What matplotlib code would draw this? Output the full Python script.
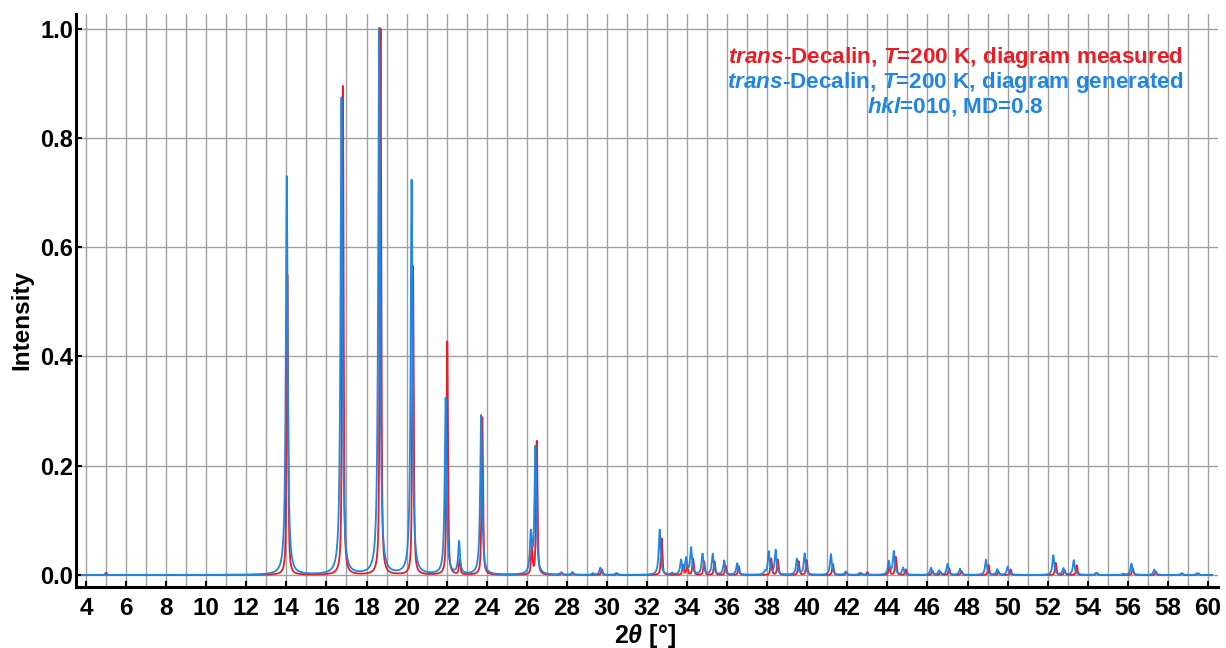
import numpy as np
import matplotlib
matplotlib.use("Agg")
import matplotlib.pyplot as plt
from matplotlib import font_manager

# ---- data: peak lists (2theta in deg, intensity) ----
meas_pos = [5.0, 14.05, 16.82, 18.70, 20.32, 22.03, 22.65, 23.78, 26.25, 26.50,
            27.75, 28.3, 29.75, 30.5, 32.73, 33.8, 34.0, 34.3, 34.85, 35.37,
            35.93, 36.58, 38.2, 38.53, 39.57, 39.97, 41.28, 41.95, 42.7, 43.0,
            44.1, 44.42, 44.92, 46.25, 46.65, 47.08, 47.7, 49.05, 49.55, 50.15,
            52.4, 52.85, 53.45, 54.45, 56.25, 57.4, 58.7, 59.5]
meas_int = [0.004, 0.55, 0.895, 1.0, 0.566, 0.428, 0.028, 0.289, 0.05, 0.245,
            0.004, 0.004, 0.010, 0.003, 0.067, 0.018, 0.018, 0.03, 0.025, 0.025,
            0.017, 0.016, 0.03, 0.028, 0.025, 0.027, 0.02, 0.005, 0.003, 0.005,
            0.015, 0.033, 0.01, 0.008, 0.005, 0.012, 0.007, 0.018, 0.006, 0.01,
            0.022, 0.008, 0.018, 0.004, 0.012, 0.006, 0.003, 0.003]

gen_pos = [14.02, 16.75, 18.63, 20.25, 21.95, 22.62, 23.72, 26.2, 26.43, 27.7,
           28.28, 29.3, 29.67, 30.45, 32.63, 33.25, 33.7, 33.95, 34.2, 34.77,
           35.28, 35.85, 36.5, 37.88, 38.08, 38.42, 39.48, 39.87, 41.18, 41.92,
           42.63, 44.07, 44.32, 44.78, 46.17, 46.58, 47.0, 47.62, 48.92, 49.48,
           50.0, 52.28, 52.78, 53.3, 54.42, 55.78, 56.18, 57.32, 58.67, 59.45]
gen_int = [0.73, 0.873, 1.0, 0.722, 0.323, 0.059, 0.292, 0.07, 0.233, 0.004,
           0.005, 0.003, 0.013, 0.003, 0.083, 0.003, 0.026, 0.029, 0.049, 0.038,
           0.038, 0.026, 0.021, 0.005, 0.042, 0.045, 0.029, 0.039, 0.038, 0.006,
           0.004, 0.024, 0.043, 0.013, 0.013, 0.008, 0.02, 0.011, 0.028, 0.01,
           0.015, 0.036, 0.012, 0.027, 0.004, 0.002, 0.021, 0.01, 0.003, 0.003]

x_ticks = list(range(4, 61, 2))
y_ticks = [0.0, 0.2, 0.4, 0.6, 0.8, 1.0]
y_ticklabels = ["0.0", "0.2", "0.4", "0.6", "0.8", "1.0"]

legend_lines = [r"$\mathit{trans}$-Decalin, $\mathit{T}$=200 K, diagram measured",
                r"$\mathit{trans}$-Decalin, $\mathit{T}$=200 K, diagram generated",
                r"$\mathit{hkl}$=010, MD=0.8"]

RED = "#ec1c24"
BLUE = "#1e86e6"


def profile(x, pos, inten, fwhm, eta):
    y = np.zeros_like(x)
    g = fwhm / 2.0
    s = fwhm / 2.3548
    for p, h in zip(pos, inten):
        d = x - p
        lor = g * g / (d * d + g * g)
        gau = np.exp(-0.5 * (d / s) ** 2)
        y += h * (eta * lor + (1 - eta) * gau)
    return y


plt.rcParams['font.family'] = ['Liberation Sans', 'DejaVu Sans']
plt.rcParams['font.weight'] = 'bold'
plt.rcParams['mathtext.fontset'] = 'custom'
plt.rcParams['mathtext.it'] = 'Liberation Sans:italic:bold'
plt.rcParams['mathtext.rm'] = 'Liberation Sans:bold'
plt.rcParams['mathtext.bf'] = 'Liberation Sans:bold'

names = {f.name for f in font_manager.fontManager.ttflist}
narrow = 'Liberation Sans Narrow' if 'Liberation Sans Narrow' in names else 'Liberation Sans'

fig = plt.figure(figsize=(12.26, 6.48), dpi=100)
ax = fig.add_axes([76 / 1226, 1 - 587 / 648, (1218 - 76) / 1226, (587 - 14) / 648])

xx = np.linspace(3.8, 60.2, 12000)
y_meas = profile(xx, meas_pos, meas_int, 0.09, 0.55)
y_gen = profile(xx, gen_pos, gen_int, 0.11, 1.0)

ax.plot(xx, y_meas, color=RED, lw=1.3, zorder=3)
ax.plot(xx, y_gen, color=BLUE, lw=1.3, zorder=4)

ax.set_xlim(3.5, 60.5)
ax.set_ylim(-0.022, 1.027)

ax.set_xticks(x_ticks)
ax.set_xticklabels([str(t) for t in x_ticks])
ax.set_xticks(np.arange(4, 61, 1), minor=True)
ax.set_yticks(y_ticks)
ax.set_yticklabels(y_ticklabels)

ax.grid(True, which='both', axis='x', color='#a0a0a0', lw=1.0, zorder=0)
ax.grid(True, which='major', axis='y', color='#a0a0a0', lw=1.0, zorder=0)
ax.set_axisbelow(True)

ax.tick_params(axis='x', which='major', direction='in', length=4, width=1.5,
               pad=7, colors='black')
ax.tick_params(axis='x', which='minor', length=0)
ax.tick_params(axis='y', which='major', direction='in', length=4, width=1.5,
               labelsize=17, pad=2)
for lab in ax.get_yticklabels():
    lab.set_fontweight('bold')
for lab in ax.get_xticklabels():
    lab.set_fontweight('bold')
    lab.set_family(narrow)
    lab.set_fontsize(20 if narrow != 'Liberation Sans' else 17.5)

for sp in ['top', 'right']:
    ax.spines[sp].set_visible(False)
for sp in ['left', 'bottom']:
    ax.spines[sp].set_linewidth(2.2)
    ax.spines[sp].set_color('black')

ax.set_xlabel(r"$\mathit{2\theta}$ [°]", fontsize=18, fontweight='bold')
ax.xaxis.set_label_coords((645 - 76) / 1142, (587 - 636) / 573)
ax.xaxis.label.set_va('center')
ax.set_ylabel("Intensity", fontsize=17.5, fontweight='bold')
ax.yaxis.set_label_coords((22 - 76) / 1142, (587 - 320) / 573)
ax.yaxis.label.set_va('center')

cx = (955 - 76) / 1142
for i, (txt, col) in enumerate(zip(legend_lines, [RED, BLUE, BLUE])):
    yy = (587 - (58 + 24.5 * i)) / 573
    ax.text(cx, yy, txt, color=col, fontsize=16.2, fontweight='bold',
            ha='center', va='center', transform=ax.transAxes, zorder=6)

fig.savefig("out.png", dpi=100)
